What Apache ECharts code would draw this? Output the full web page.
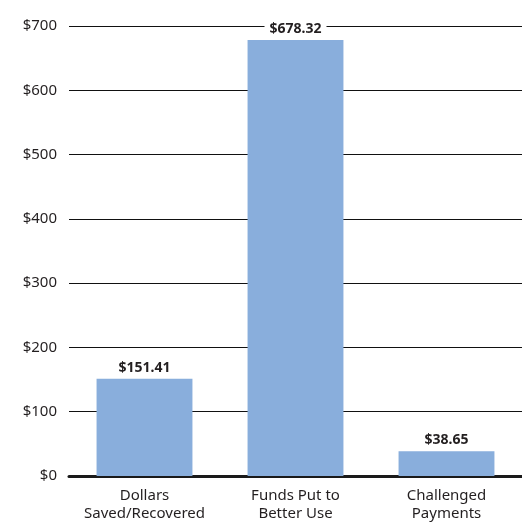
<!DOCTYPE html>
<html>
<head>
<meta charset="utf-8">
<script src="https://cdn.jsdelivr.net/npm/echarts@6/dist/echarts.min.js"></script>
<style>
  html, body { margin: 0; padding: 0; background: #fff; }
  #chart { width: 522px; height: 525px; }
</style>
</head>
<body>
<div id="chart"></div>
<script>
// chart data
var categories = ["Dollars\nSaved/Recovered", "Funds Put to\nBetter Use", "Challenged\nPayments"];
var values = [151.41, 678.32, 38.65];
var yTicks = [0, 100, 200, 300, 400, 500, 600, 700];

var chart = echarts.init(document.getElementById("chart"));
chart.setOption({
  animation: false,
  grid: { left: 69, right: 0, top: 26, bottom: 49 },
  xAxis: {
    type: "category",
    data: categories,
    axisLine: { show: true, lineStyle: { color: "#1a1a1a", width: 3 } },
    axisTick: { show: false },
    axisLabel: {
      interval: 0,
      hideOverlap: false,
      color: "#231f20",
      fontFamily: "Noto Sans",
      fontSize: 15,
      lineHeight: 18,
      margin: 11
    }
  },
  yAxis: {
    type: "value",
    min: yTicks[0],
    max: yTicks[yTicks.length - 1],
    interval: 100,
    axisLine: { show: false },
    axisTick: { show: false },
    splitLine: { show: true, lineStyle: { color: "#111", width: 1 } },
    axisLabel: {
      color: "#231f20",
      fontFamily: "Noto Sans",
      fontSize: 15,
      margin: 12,
      formatter: function (v) { return "$" + v; }
    }
  },
  series: [{
    type: "bar",
    data: values,
    barWidth: "63.5%",
    itemStyle: { color: "#89aedc" },
    label: {
      show: true,
      position: "top",
      distance: 4,
      color: "#231f20",
      fontFamily: "Noto Sans",
      fontWeight: "bold",
      fontSize: 14,
      backgroundColor: "#fff",
      padding: [0, 5],
      formatter: function (p) { return "$" + p.value.toFixed(2); }
    }
  }]
});
</script>
</body>
</html>
